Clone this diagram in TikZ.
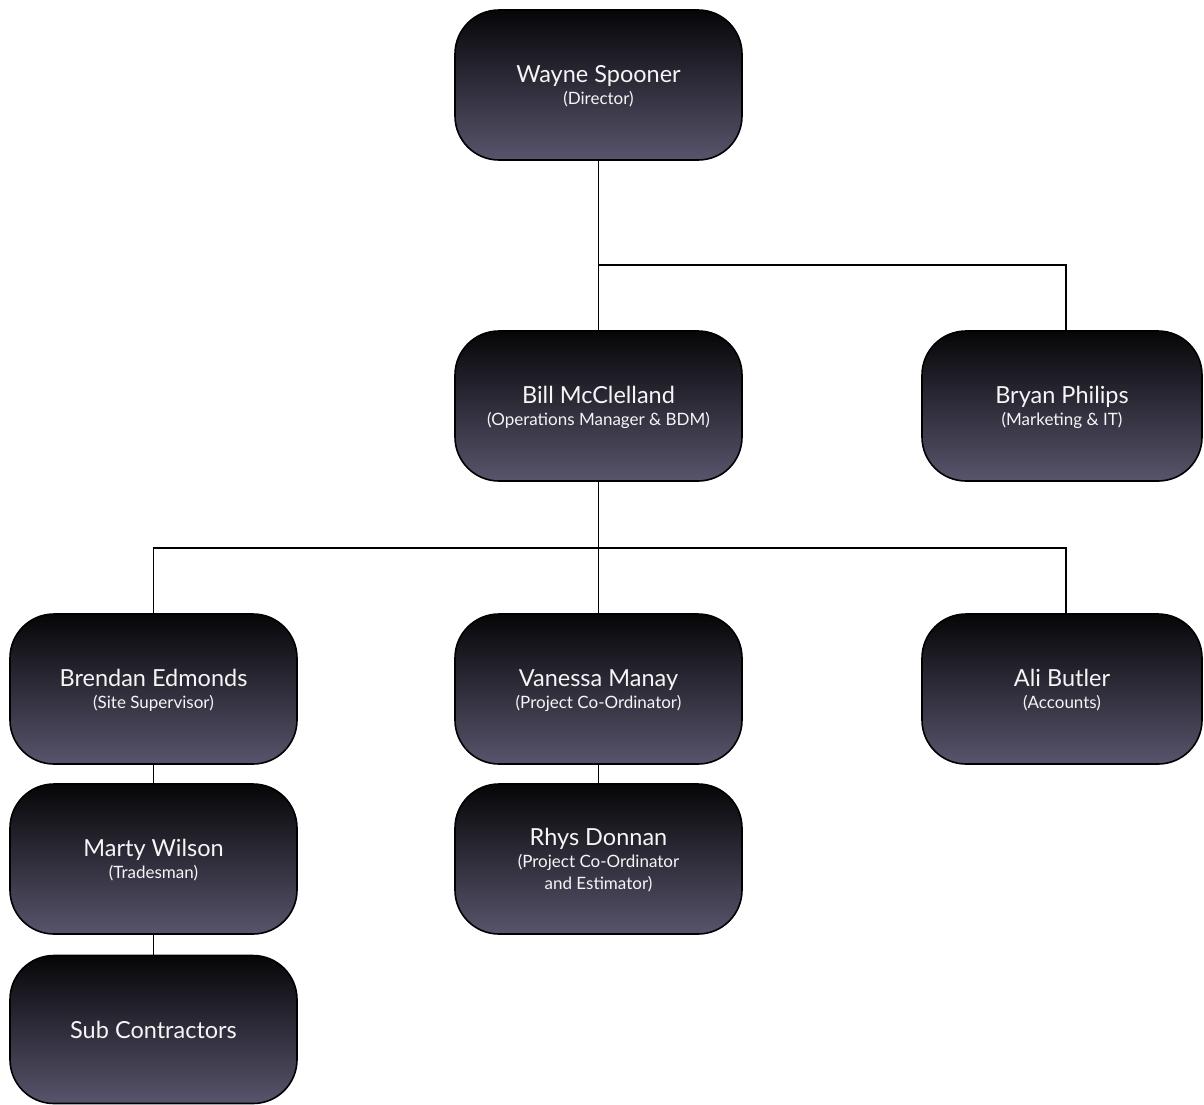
\documentclass[tikz,border=0pt]{standalone}
\usepackage{fontspec}
\setmainfont{Lato}
\definecolor{boxtop}{RGB}{6,6,8}
\definecolor{boxbot}{RGB}{88,84,108}
\definecolor{txt}{RGB}{245,245,245}
\tikzset{
  person/.style={rectangle, rounded corners=44pt, draw=black, line width=1.6pt,
    minimum width=287pt, minimum height=150pt, top color=boxtop, bottom color=boxbot,
    text=txt, align=center, inner sep=0pt, text depth=0pt,
    font=\fontsize{17}{22}\selectfont},
  narrow/.style={minimum width=280pt},
  conn/.style={draw=black, line width=1.5pt},
}
\newcommand{\nm}[1]{{\fontsize{23.5}{22}\selectfont #1}}
\begin{document}
\begin{tikzpicture}[x=1pt,y=-1pt]
\useasboundingbox (0,0) rectangle (1204,1104);
\node[person] (wayne) at (598.5,85) {\nm{Wayne Spooner}\\(Director)};
\node[person] (bill) at (598.5,406) {\nm{Bill McClelland}\\(Operations Manager \& BDM)};
\node[person, narrow] (bryan) at (1062,406) {\nm{Bryan Philips}\\(Marketing \& IT)};
\node[person] (brendan) at (153.5,689) {\nm{Brendan Edmonds}\\(Site Supervisor)};
\node[person] (vanessa) at (598.5,689) {\nm{Vanessa Manay}\\(Project Co-Ordinator)};
\node[person, narrow] (ali) at (1062,689) {\nm{Ali Butler}\\(Accounts)};
\node[person] (marty) at (153.5,859) {\nm{Marty Wilson}\\(Tradesman)};
\node[person] (rhys) at (598.5,859) {\nm{Rhys Donnan}\\(Project Co-Ordinator\\and Estimator)};
\node[person, minimum height=148pt] (sub) at (153.5,1029.5) {\nm{Sub Contractors}};
\coordinate (j1) at (598.5,265);
\coordinate (j2) at (598.5,548);
\draw[conn] (wayne.south) -- (bill.north);
\draw[conn] (j1) -| ([xshift=4pt]bryan.north);
\draw[conn] (bill.south) -- (vanessa.north);
\draw[conn] (j2) -| (brendan.north);
\draw[conn] (j2) -| ([xshift=4pt]ali.north);
\draw[conn] (brendan.south) -- (marty.north);
\draw[conn] (marty.south) -- (sub.north);
\draw[conn] (vanessa.south) -- (rhys.north);
\end{tikzpicture}
\end{document}
